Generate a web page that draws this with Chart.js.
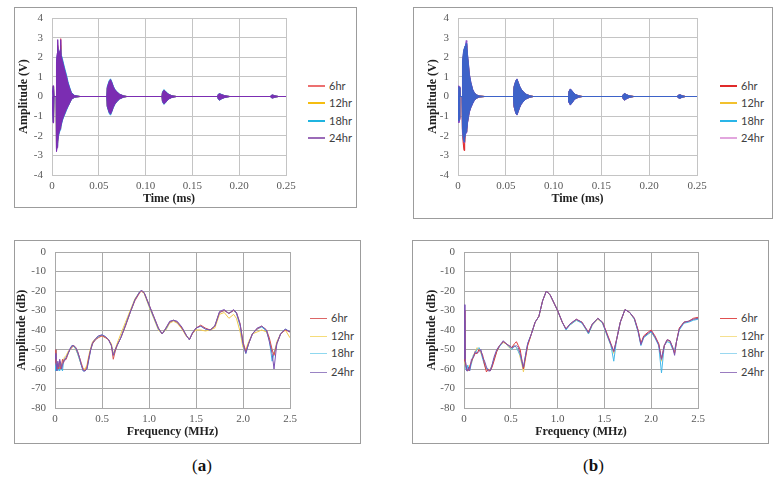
<!DOCTYPE html>
<html lang="en">
<head>
<meta charset="UTF-8">
<title>Waveforms and spectra, 6-24hr</title>
<script src="https://cdn.jsdelivr.net/npm/chart.js"></script>
<style>
  body { margin: 0; background: #fff; width: 776px; height: 492px; position: relative; overflow: hidden; }
  .panel { position: absolute; border: 1px solid #9c9c9c; box-sizing: border-box; }
  canvas { position: absolute; }
  .leg { position: absolute; font-family: Lato, "Liberation Sans", sans-serif; font-size: 11px; color: #404040; white-space: nowrap; }
  .cap { position: absolute; font-family: "Liberation Serif", serif; font-size: 17px; color: #111; }
</style>
</head>
<body>

<div class="panel" style="left:14px;top:7px;width:343px;height:201px"></div>
<div class="panel" style="left:413px;top:7px;width:360px;height:212px"></div>
<div class="panel" style="left:14px;top:240px;width:347px;height:204px"></div>
<div class="panel" style="left:412px;top:240px;width:357px;height:204px"></div>

<canvas id="waveA" width="290" height="207" style="left:12px;top:8px"></canvas>
<canvas id="waveB" width="292" height="207" style="left:420px;top:8px"></canvas>
<canvas id="specA" width="295" height="200" style="left:12px;top:242px"></canvas>
<canvas id="specB" width="294" height="200" style="left:420px;top:242px"></canvas>

<div class="cap" style="left:192px;top:456px">(<b>a</b>)</div>
<div class="cap" style="left:583px;top:456px">(<b>b</b>)</div>

<script>
const seriesLabels = ["6hr", "12hr", "18hr", "24hr"];

// ---- time signals (ms, V): upper / lower envelope of each burst ----
const timeA = [0, 0.0008, 0.0012, 0.0017, 0.0022, 0.0044, 0.0048, 0.0055, 0.0061, 0.0068, 0.0078, 0.0088, 0.0093, 0.0098, 0.011, 0.0125, 0.0138, 0.0155, 0.0171, 0.019, 0.0208, 0.024, 0.03,
  0.0585, 0.059, 0.061, 0.0625, 0.064, 0.0655, 0.067, 0.069, 0.072, 0.076, 0.08,
  0.1175, 0.118, 0.1195, 0.121, 0.123, 0.125, 0.128, 0.133,
  0.177, 0.1775, 0.179, 0.181, 0.184, 0.19,
  0.2335, 0.234, 0.2355, 0.238, 0.242, 0.25];

const up6A = [0, 0, 0.5, 0.45, 0, 0, 1.6, 2.0, 2.6, 2.1, 2.2, 2.3, 2.95, 2.0, 1.8, 1.5, 1.25, 0.95, 0.65, 0.38, 0.16, 0.05, 0,
  0, 0.42, 0.72, 0.84, 0.68, 0.48, 0.35, 0.24, 0.12, 0.04, 0,
  0, 0.19, 0.3, 0.26, 0.16, 0.09, 0.04, 0,
  0, 0.09, 0.13, 0.09, 0.05, 0,
  0, 0.04, 0.07, 0.04, 0, 0];
const lo6A = [0, 0, -1.3, -1.1, 0, 0, -2.7, -2.5, -2.5, -1.9, -1.75, -1.6, -1.5, -1.4, -1.15, -0.95, -0.8, -0.6, -0.48, -0.3, -0.13, -0.04, 0,
  0, -0.48, -0.78, -0.88, -0.72, -0.52, -0.38, -0.26, -0.12, -0.04, 0,
  0, -0.24, -0.36, -0.3, -0.19, -0.11, -0.05, 0,
  0, -0.11, -0.17, -0.11, -0.05, 0,
  0, -0.04, -0.07, -0.04, 0, 0];
const up12A = [0, 0, 0.5, 0.4, 0, 0, 1.6, 2.0, 2.5, 2.0, 2.1, 2.2, 2.6, 2.0, 1.75, 1.45, 1.2, 0.95, 0.62, 0.36, 0.15, 0.05, 0,
  0, 0.42, 0.7, 0.82, 0.66, 0.47, 0.34, 0.23, 0.11, 0.04, 0,
  0, 0.19, 0.3, 0.25, 0.16, 0.09, 0.04, 0,
  0, 0.09, 0.13, 0.09, 0.04, 0,
  0, 0.04, 0.07, 0.03, 0, 0];
const lo12A = [0, 0, -1.25, -1.1, 0, 0, -2.6, -2.4, -2.2, -1.9, -1.7, -1.6, -1.5, -1.35, -1.15, -0.95, -0.8, -0.6, -0.46, -0.3, -0.13, -0.04, 0,
  0, -0.47, -0.77, -0.87, -0.7, -0.51, -0.37, -0.25, -0.12, -0.04, 0,
  0, -0.23, -0.35, -0.3, -0.19, -0.11, -0.04, 0,
  0, -0.11, -0.16, -0.11, -0.05, 0,
  0, -0.04, -0.07, -0.04, 0, 0];
const up18A = [0, 0, 0.5, 0.45, 0, 0, 1.7, 2.1, 2.5, 2.2, 2.3, 2.3, 2.4, 2.15, 1.95, 1.65, 1.4, 1.1, 0.75, 0.45, 0.2, 0.06, 0,
  0, 0.5, 0.8, 0.9, 0.74, 0.53, 0.38, 0.26, 0.13, 0.04, 0,
  0, 0.22, 0.35, 0.29, 0.18, 0.11, 0.04, 0,
  0, 0.11, 0.15, 0.11, 0.05, 0,
  0, 0.05, 0.08, 0.04, 0, 0];
const lo18A = [0, 0, -1.3, -1.1, 0, 0, -2.7, -2.5, -2.3, -2.05, -1.85, -1.7, -1.6, -1.5, -1.25, -1.05, -0.9, -0.7, -0.52, -0.33, -0.15, -0.04, 0,
  0, -0.52, -0.85, -0.95, -0.78, -0.57, -0.42, -0.28, -0.14, -0.04, 0,
  0, -0.27, -0.4, -0.34, -0.21, -0.12, -0.05, 0,
  0, -0.13, -0.19, -0.13, -0.06, 0,
  0, -0.05, -0.08, -0.04, 0, 0];
const up24A = [0, 0, 0.55, 0.5, 0, 0, 1.8, 2.2, 2.9, 2.2, 2.2, 2.4, 2.9, 2.1, 1.85, 1.55, 1.3, 1.0, 0.68, 0.4, 0.17, 0.05, 0,
  0, 0.45, 0.75, 0.86, 0.7, 0.5, 0.36, 0.25, 0.12, 0.04, 0,
  0, 0.2, 0.32, 0.27, 0.17, 0.1, 0.04, 0,
  0, 0.1, 0.14, 0.1, 0.05, 0,
  0, 0.05, 0.08, 0.04, 0, 0];
const lo24A = [0, 0, -1.35, -1.2, 0, 0, -2.8, -2.6, -2.4, -2.0, -1.8, -1.65, -1.55, -1.45, -1.2, -1.0, -0.85, -0.65, -0.5, -0.32, -0.14, -0.04, 0,
  0, -0.5, -0.8, -0.9, -0.75, -0.55, -0.4, -0.27, -0.13, -0.04, 0,
  0, -0.25, -0.37, -0.32, -0.2, -0.12, -0.05, 0,
  0, -0.12, -0.18, -0.12, -0.06, 0,
  0, -0.05, -0.08, -0.04, 0, 0];

const timeB = [0, 0.0006, 0.001, 0.0015, 0.002,
  0.0042, 0.0047, 0.0055, 0.0063, 0.007, 0.0078, 0.0086, 0.0092, 0.01, 0.011, 0.0119, 0.0135, 0.0154, 0.017, 0.019, 0.022, 0.028,
  0.058, 0.0586, 0.0605, 0.0617, 0.063, 0.0645, 0.066, 0.068, 0.071, 0.075, 0.079,
  0.1155, 0.116, 0.1175, 0.119, 0.121, 0.123, 0.126, 0.13,
  0.1722, 0.1728, 0.1744, 0.176, 0.179, 0.184,
  0.2295, 0.2302, 0.2322, 0.2345, 0.238, 0.25];

const up6B = [0, 0, 0.5, 0.45, 0,
  0, 1.6, 2.0, 2.3, 2.4, 2.5, 2.6, 2.5, 2.0, 1.5, 1.05, 0.65, 0.32, 0.18, 0.08, 0.03, 0,
  0, 0.48, 0.78, 0.86, 0.7, 0.5, 0.36, 0.24, 0.11, 0.04, 0,
  0, 0.24, 0.36, 0.29, 0.17, 0.09, 0.04, 0,
  0, 0.09, 0.14, 0.09, 0.04, 0,
  0, 0.05, 0.08, 0.04, 0, 0];
const lo6B = [0, 0, -1.3, -1.15, 0,
  0, -1.9, -2.4, -2.75, -2.4, -1.9, -1.8, -1.7, -1.3, -1.0, -0.75, -0.54, -0.33, -0.19, -0.09, -0.03, 0,
  0, -0.5, -0.84, -0.92, -0.74, -0.54, -0.39, -0.26, -0.12, -0.04, 0,
  0, -0.27, -0.41, -0.33, -0.19, -0.1, -0.04, 0,
  0, -0.12, -0.17, -0.12, -0.05, 0,
  0, -0.05, -0.08, -0.04, 0, 0];
const up12B = [0, 0, 0.45, 0.4, 0,
  0, 1.6, 2.0, 2.3, 2.4, 2.45, 2.55, 2.45, 1.95, 1.5, 1.0, 0.65, 0.32, 0.18, 0.08, 0.03, 0,
  0, 0.47, 0.77, 0.85, 0.7, 0.5, 0.36, 0.24, 0.11, 0.04, 0,
  0, 0.24, 0.36, 0.29, 0.17, 0.09, 0.04, 0,
  0, 0.09, 0.14, 0.09, 0.04, 0,
  0, 0.05, 0.08, 0.04, 0, 0];
const lo12B = [0, 0, -1.2, -1.05, 0,
  0, -1.7, -2.1, -2.3, -2.1, -1.85, -1.75, -1.65, -1.25, -0.95, -0.73, -0.52, -0.32, -0.18, -0.09, -0.03, 0,
  0, -0.48, -0.82, -0.9, -0.73, -0.53, -0.38, -0.26, -0.12, -0.04, 0,
  0, -0.26, -0.4, -0.32, -0.19, -0.1, -0.04, 0,
  0, -0.11, -0.17, -0.11, -0.05, 0,
  0, -0.05, -0.08, -0.04, 0, 0];
const up18B = [0, 0, 0.5, 0.45, 0,
  0, 1.8, 2.2, 2.45, 2.55, 2.6, 2.7, 2.6, 2.13, 1.6, 1.1, 0.7, 0.34, 0.2, 0.09, 0.03, 0,
  0, 0.5, 0.8, 0.88, 0.72, 0.52, 0.38, 0.25, 0.12, 0.04, 0,
  0, 0.25, 0.38, 0.3, 0.18, 0.1, 0.04, 0,
  0, 0.1, 0.15, 0.1, 0.04, 0,
  0, 0.06, 0.09, 0.04, 0, 0];
const lo18B = [0, 0, -1.25, -1.1, 0,
  0, -1.7, -2.1, -2.3, -2.1, -1.9, -1.8, -1.7, -1.3, -1.0, -0.77, -0.55, -0.34, -0.2, -0.1, -0.03, 0,
  0, -0.5, -0.85, -0.93, -0.75, -0.55, -0.4, -0.27, -0.13, -0.04, 0,
  0, -0.28, -0.42, -0.34, -0.2, -0.11, -0.04, 0,
  0, -0.12, -0.18, -0.12, -0.05, 0,
  0, -0.06, -0.09, -0.04, 0, 0];
const up24B = [0, 0, 0.55, 0.5, 0,
  0, 1.7, 2.1, 2.4, 2.5, 2.6, 2.85, 2.8, 2.1, 1.65, 1.15, 0.72, 0.36, 0.2, 0.09, 0.03, 0,
  0, 0.5, 0.82, 0.9, 0.73, 0.53, 0.38, 0.25, 0.12, 0.04, 0,
  0, 0.26, 0.39, 0.31, 0.19, 0.1, 0.04, 0,
  0, 0.1, 0.15, 0.1, 0.04, 0,
  0, 0.06, 0.09, 0.04, 0, 0];
const lo24B = [0, 0, -1.35, -1.2, 0,
  0, -1.8, -2.2, -2.35, -2.15, -1.95, -1.85, -1.75, -1.35, -1.05, -0.8, -0.57, -0.36, -0.21, -0.1, -0.03, 0,
  0, -0.52, -0.87, -0.95, -0.78, -0.57, -0.41, -0.28, -0.13, -0.04, 0,
  0, -0.3, -0.44, -0.35, -0.21, -0.11, -0.04, 0,
  0, -0.13, -0.19, -0.13, -0.05, 0,
  0, -0.06, -0.09, -0.04, 0, 0];

// ---- spectra (MHz, dB) ----
const freqA = [0, 0.01, 0.02, 0.03, 0.04, 0.05, 0.06, 0.07, 0.08, 0.09,
  0.1, 0.12, 0.14, 0.16, 0.18, 0.2, 0.22, 0.24, 0.26, 0.28,
  0.3, 0.32, 0.34, 0.36, 0.38, 0.4, 0.43, 0.46, 0.5, 0.54,
  0.57, 0.6, 0.62, 0.64, 0.66, 0.7, 0.75, 0.8, 0.85, 0.9,
  0.92, 0.95, 1.0, 1.05, 1.1, 1.14, 1.18, 1.22, 1.26, 1.3,
  1.35, 1.4, 1.43, 1.46, 1.5, 1.55, 1.6, 1.65, 1.7, 1.75,
  1.8, 1.85, 1.9, 1.93, 1.97, 2.0, 2.03, 2.06, 2.1, 2.15,
  2.2, 2.25, 2.28, 2.31, 2.33, 2.36, 2.4, 2.45, 2.5];
const db6A = [-50, -57, -60, -58, -60, -56, -60, -58, -55, -57,
  -55, -55, -52, -50, -49, -48, -49, -51, -54, -57,
  -60, -61, -59, -54, -50, -47, -45, -44, -43, -44,
  -45, -48, -55, -51, -48, -44, -38, -31, -25, -21,
  -20, -21, -27, -33, -39, -42, -39, -36, -35, -36,
  -39, -43, -45, -42, -39, -37.5, -39, -40, -38, -31,
  -30, -31.5, -30, -31, -37, -46, -51, -47, -42, -39.5,
  -38, -40, -44, -50, -53, -47, -42, -40, -41];
const db12A = [-51, -58, -59, -60, -57, -60, -58, -59, -57, -56,
  -54, -53, -51, -50, -48.5, -48, -50, -52, -55, -58,
  -60, -60, -58, -53, -49, -46, -44.5, -43.5, -43, -44,
  -45, -47, -52, -50, -47, -42, -36, -30, -24, -20.5,
  -20, -21.5, -28, -34, -40, -42, -40, -36.5, -35.5, -36.5,
  -39.5, -43.5, -44.5, -42, -40, -40, -40.5, -40, -39, -32,
  -31, -34, -32, -34, -41, -49, -50, -46, -42, -41,
  -40, -41, -45, -51, -52, -46, -42, -40, -44];
const db18A = [-50, -61, -58, -61, -59, -61, -57, -60, -61, -56,
  -55, -54, -52, -50, -48, -48.5, -49.5, -52, -55, -58,
  -61, -61, -60, -55, -50, -47, -45, -43.5, -42.5, -43.5,
  -45, -48, -53, -51, -48, -44, -37.5, -31, -24.5, -20.5,
  -20, -21, -27.5, -33.5, -39.5, -42, -39.5, -36, -35, -36,
  -39, -43, -45, -42, -39, -38, -39.5, -40, -38, -31,
  -30, -31.5, -30, -31.5, -38, -47, -52, -47, -42, -39.5,
  -38.5, -40.5, -45, -56, -52, -47, -42, -39.5, -41];
const db24A = [-52, -55, -61, -56, -59, -55, -57, -60, -58, -56,
  -56, -54, -52, -49.5, -48, -48, -49, -51, -54, -58,
  -61, -61, -60, -55, -50, -46.5, -44.5, -43, -42.5, -43.5,
  -45, -48, -53, -50, -48, -44, -37.5, -31, -24.5, -20.5,
  -19.5, -21, -27, -33, -39, -42, -39, -35.5, -35, -35.5,
  -38.5, -43, -45, -41.5, -39, -38, -39.5, -40, -38, -30.5,
  -29.5, -31.5, -29.5, -31, -37, -47, -52, -47, -42, -39,
  -38, -40, -46, -52, -60, -47, -42, -39.5, -41];

const freqB = [0, 0.01, 0.02, 0.03, 0.04, 0.05, 0.06, 0.08, 0.1, 0.12,
  0.14, 0.16, 0.18, 0.2, 0.22, 0.24, 0.26, 0.28, 0.3, 0.32,
  0.35, 0.38, 0.42, 0.45, 0.48, 0.51, 0.54, 0.56, 0.58, 0.6,
  0.62, 0.635, 0.65, 0.68, 0.72, 0.76, 0.8, 0.84, 0.88, 0.92,
  0.97, 1.0, 1.05, 1.09, 1.13, 1.2, 1.26, 1.3, 1.33, 1.37,
  1.43, 1.48, 1.53, 1.57, 1.6, 1.63, 1.67, 1.72, 1.77, 1.82,
  1.86, 1.89, 1.92, 1.97, 2.0, 2.04, 2.08, 2.11, 2.14, 2.17,
  2.2, 2.23, 2.25, 2.27, 2.3, 2.35, 2.4, 2.45, 2.5];
const db6B = [-30, -56, -58, -60, -61, -60, -59, -56, -54, -52,
  -52, -50, -51, -53, -58, -61.5, -60, -61, -59, -56,
  -51, -48, -46, -47, -48, -49, -47, -46, -48, -50,
  -56, -60, -56, -48, -42, -36, -33, -25, -20, -22,
  -27, -30, -36, -39.5, -37, -34.5, -36, -39, -41, -37,
  -34, -36, -42, -47, -51, -45, -36, -29.5, -31, -34,
  -40, -47, -43, -41, -40, -43, -47, -55, -48, -45,
  -45.5, -49, -52, -46, -39, -36, -35.5, -34, -33.5];
const db12B = [-40, -57, -59, -61, -60, -61, -58, -57, -53, -51,
  -49, -50, -52, -54, -57, -60, -61, -60, -58, -55,
  -51, -48, -46.5, -47, -49, -49.5, -48, -49, -50, -54,
  -58, -61.5, -57, -48, -42, -36, -33, -25, -20, -22,
  -27, -30, -36, -39.5, -37.5, -35, -36, -39.5, -42, -37.5,
  -34.5, -36.5, -43, -48, -52, -45, -36, -29.5, -31, -34.5,
  -40.5, -47, -43.5, -42, -41, -44, -47, -56, -48, -45.5,
  -46, -49.5, -51, -46, -39.5, -36, -35.5, -34.5, -34];
const db18B = [-35, -55, -60, -61, -58, -60, -61, -57, -53, -52,
  -50, -49, -51, -55, -58, -60, -60, -61, -58, -55,
  -51, -48.5, -46, -47, -48.5, -50, -48, -49, -51, -53,
  -57, -60, -55, -47, -42, -36, -33, -25, -20, -22,
  -27, -30, -36, -40, -37.5, -35, -36.5, -39.5, -42, -37.5,
  -34, -36.5, -43, -48, -56, -45, -36, -29.5, -31, -34.5,
  -41, -48, -44, -42, -41, -44, -48, -62, -48, -46,
  -46.5, -50, -50, -46, -40, -36.5, -36, -35, -34.5];
const db24B = [-27, -55, -57, -61, -61, -59, -61, -55, -54, -51,
  -52, -51, -50, -54, -56, -59, -61, -61, -58, -54,
  -50, -48, -45.5, -47, -48, -49, -48.5, -48, -49, -52,
  -56, -59, -55, -47, -42, -36, -33, -25, -20, -22,
  -27, -30, -36, -39.5, -37, -34.5, -36, -39, -41.5, -37,
  -34, -36, -42.5, -47.5, -51, -45, -36, -29.5, -31, -34,
  -40.5, -47.5, -43.5, -41.5, -40.5, -43.5, -47.5, -55, -48, -45,
  -45.5, -49, -53, -46, -39.5, -36, -35.5, -34.5, -34];

const tickFont = { family: "Liberation Serif", size: 11 };
const titleFont = { family: "Liberation Serif", size: 12, weight: "bold" };

function pts(xs, ys) {
  return xs.map((x, i) => ({ x: x, y: ys[i] }));
}

function axes(c) {
  return {
    x: {
      type: "linear", min: c.xMin, max: c.xMax,
      ticks: { stepSize: c.xStep, padding: 5, color: "#595959", font: tickFont, maxRotation: 0, autoSkip: false },
      grid: { color: c.grid, drawTicks: false },
      border: { color: c.grid },
      title: { display: true, text: c.xTitle, color: "#222", font: titleFont, padding: { top: 0, bottom: c.xTitlePad } },
      afterFit: s => { s.height = c.xH; s.paddingLeft = 0; s.paddingRight = 0; }
    },
    y: {
      type: "linear", min: c.yMin, max: c.yMax,
      ticks: { stepSize: c.yStep, padding: 9, color: "#595959", font: tickFont },
      grid: { color: c.grid, drawTicks: false },
      border: { color: c.grid },
      title: { display: true, text: c.yTitle, color: "#222", font: titleFont, padding: { top: c.yTitlePad, bottom: 0 } },
      // keep the plot box where the layout padding puts it
      afterFit: s => { s.width = c.yW; s.paddingTop = 0; s.paddingBottom = 0; }
    }
  };
}

function draw(id, datasets, c) {
  new Chart(document.getElementById(id), {
    type: "line",
    data: { datasets: datasets },
    options: {
      responsive: false,
      animation: false,
      devicePixelRatio: 1,
      layout: { padding: { left: 0, top: c.padTop, right: c.padRight, bottom: 0 } },
      elements: { point: { radius: 0 }, line: { tension: 0 } },
      plugins: { legend: { display: false }, tooltip: { enabled: false } },
      scales: axes(c)
    }
  });
}

// burst waveforms drawn as filled band between upper and lower envelope
function waveSets(time, ups, los, colors, orders) {
  const sets = [];
  ups.forEach((up, k) => {
    sets.push({ label: seriesLabels[k], data: pts(time, up), borderColor: colors[k], borderWidth: 1, fill: false, order: orders[k] });
    sets.push({ label: seriesLabels[k] + " low", data: pts(time, los[k]), borderColor: colors[k], backgroundColor: colors[k], borderWidth: 1, fill: "-1", order: orders[k] });
  });
  return sets;
}

function specSets(freq, dbs, colors, orders) {
  return dbs.map((d, k) => ({ label: seriesLabels[k], data: pts(freq, d), borderColor: colors[k], borderWidth: 1, fill: false, order: orders[k] }));
}

function legend(x, ys, colors, thick) {
  seriesLabels.forEach((lab, k) => {
    const line = document.createElement("div");
    line.style.cssText = `position:absolute;left:${x}px;top:${ys[k] - thick / 2}px;width:17px;height:${thick}px;background:${colors[k]}`;
    document.body.appendChild(line);
    const t = document.createElement("div");
    t.className = "leg";
    t.textContent = lab;
    t.style.left = (x + 21) + "px";
    t.style.top = (ys[k] - 7) + "px";
    document.body.appendChild(t);
  });
}

const waveAxes = { xMin: 0, xMax: 0.25, xStep: 0.05, yMin: -4, yMax: 4, yStep: 1, grid: "#c4c4c4",
  xTitle: "Time (ms)", yTitle: "Amplitude (V)", xH: 40, xTitlePad: 9 };
const specAxes = { xMin: 0, xMax: 2.5, xStep: 0.5, yMin: -80, yMax: 0, yStep: 10, grid: "#a9a9a9",
  xTitle: "Frequency (MHz)", yTitle: "Amplitude (dB)", xH: 34, xTitlePad: 3 };

draw("waveA",
  waveSets(timeA, [up6A, up12A, up18A, up24A], [lo6A, lo12A, lo18A, lo24A],
    ["#e8585c", "#f3bf1a", "#22b2e2", "#7b2db2"], [3, 2, 1, 0]),
  Object.assign({}, waveAxes, { yW: 40, yTitlePad: 5, padTop: 10, padRight: 16 }));

draw("waveB",
  waveSets(timeB, [up6B, up12B, up18B, up24B], [lo6B, lo12B, lo18B, lo24B],
    ["#e0282a", "#f0b400", "#3d62c8", "#8a4cc4"], [3, 2, 0, 1]),
  Object.assign({}, waveAxes, { yW: 38, yTitlePad: 6, padTop: 10, padRight: 15 }));

draw("specA",
  specSets(freqA, [db6A, db12A, db18A, db24A], ["#d9534f", "#f2c94c", "#3bb4e5", "#7a52b3"], [1, 3, 2, 0]),
  Object.assign({}, specAxes, { yW: 43, yTitlePad: 3, padTop: 10, padRight: 17 }));

draw("specB",
  specSets(freqB, [db6B, db12B, db18B, db24B], ["#dd3b3b", "#f2d060", "#45b8e8", "#7a52b3"], [1, 3, 2, 0]),
  Object.assign({}, specAxes, { yW: 44, yTitlePad: 5, padTop: 10, padRight: 16 }));

legend(308, [86, 103, 121, 138], ["#ec7070", "#f5bd10", "#1fb4e0", "#9b6bb8"], 2);
legend(720, [86, 103, 121, 138], ["#e02a2a", "#f2c12e", "#2ab5e8", "#e2a6de"], 2);
legend(310, [318, 336, 353, 372], ["#dc6666", "#f5dc7a", "#8fd8ef", "#9a84c4"], 1);
legend(720, [318, 336, 353, 372], ["#e05050", "#f5e090", "#9ad8f0", "#9a7cc0"], 1);
</script>
</body>
</html>
